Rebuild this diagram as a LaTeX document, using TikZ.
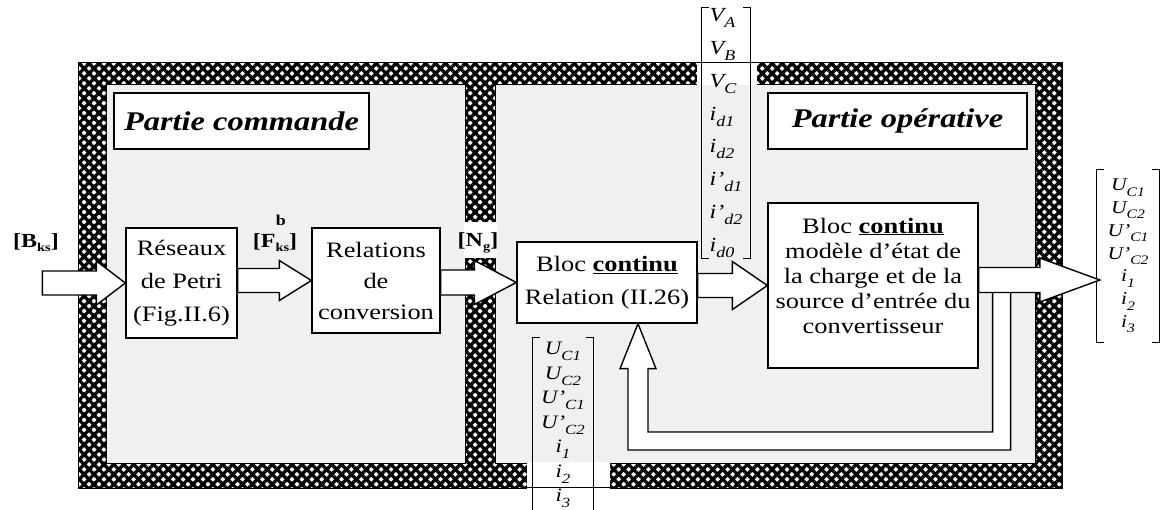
\documentclass[tikz,border=0pt]{standalone}
\usepackage{fontspec}
\setmainfont{Liberation Serif}[FakeStretch=1.2]
\usetikzlibrary{patterns.meta,calc}
\newcommand\fs[2]{\fontsize{#1}{#2}\selectfont}
\newcommand\vs[2]{\raisebox{-0.3em}{\fontsize{#1}{#1}\selectfont #2}}
\newcommand\lsub[1]{\raisebox{-0.2em}{\fontsize{12}{12}\selectfont\bfseries #1}}
\newcommand\harrow[5]{%
  \draw[arr] ($(#1)+(0,-#3)$) -- ($(#2)+(-#5,-#3)$) -- ($(#2)+(-#5,-#4)$) -- (#2)
    -- ($(#2)+(-#5,#4)$) -- ($(#2)+(-#5,#3)$) -- ($(#1)+(0,#3)$) -- cycle;}
\newcommand\brackets[1]{%
  \draw[brk] ([xshift=7pt]#1.north west) -- (#1.north west) -- (#1.south west) -- ([xshift=7pt]#1.south west);
  \draw[brk] ([xshift=-7pt]#1.north east) -- (#1.north east) -- (#1.south east) -- ([xshift=-7pt]#1.south east);}
\begin{document}
\begin{tikzpicture}[x=1pt,y=-1pt,
  box/.style={draw,line width=1.3pt,fill=white,inner sep=0pt,align=center,font=\fs{22}{33}},
  ttl/.style={draw,line width=1.2pt,fill=white,inner sep=0pt,font=\fs{27}{30}\bfseries\itshape},
  arr/.style={draw,line width=1.4pt,fill=white,line join=miter},
  lbl/.style={inner sep=0pt,font=\fs{20}{22}\bfseries},
  vec/.style={inner sep=0pt,align=center},
  brk/.style={line width=0.9pt},
  hatchfill/.style={pattern={Hatch[distance=7pt,angle=45,line width=3.3pt]},pattern color=black,draw=black,line width=1pt},
  innerfill/.style={fill=black!6}]
\fill[white] (0,0) rectangle (1162,509);
\useasboundingbox (0,0) rectangle (1162,509);

% frame
\fill[innerfill] (106,84) rectangle (465,463);
\fill[innerfill] (495,84) rectangle (1035,463);
\path[hatchfill,even odd rule] (78,62) rectangle (1062,488) (106,84) rectangle (465,463) (495,84) rectangle (1035,463);
\fill[white] (697,60) rectangle (757,85);
\draw[line width=1pt] (697,62) -- (757,62);
\fill[white] (527,462) rectangle (610,490);
\draw[line width=1pt] (527,487) -- (610,487);
\fill[white] (463.5,222) rectangle (496.5,258);

% titles
\node[ttl,minimum width=255pt,minimum height=56pt] (tc) at (241.5,121) {Partie commande};
\node[ttl,minimum width=259pt,minimum height=56pt] (to) at (897.5,121) {Partie opérative};

% blocks
\node[box,minimum width=111pt,minimum height=110pt] (petri) at (181.5,283) {Réseaux\\de Petri\\(Fig.II.6)};
\node[box,minimum width=128pt,minimum height=105pt,font=\fs{22}{31}] (relconv) at (376,280.5) {Relations\\de\\conversion};
\node[box,minimum width=180pt,minimum height=81pt] (bloc) at (607,282.5) {Bloc \underline{\textbf{continu}}\\Relation (II.26)};
\node[box,minimum width=210pt,minimum height=165pt] (model) at (873,285.5) {};
\node[inner sep=0pt,align=center,font=\fs{22}{25}] (modeltxt) at ([yshift=10pt]model.center) {Bloc \underline{\textbf{continu}}\\modèle d’état de\\la charge et de la\\source d’entrée du\\convertisseur};

% vectors
\node[vec,align=left,font=\fs{20}{32.8}\itshape,minimum width=48pt,minimum height=250pt] (tv) at (726,133)
  {V\vs{15}{A}\\V\vs{15}{B}\\V\vs{15}{C}\\i\vs{15}{d1}\\i\vs{15}{d2}\\i'\vs{15}{d1}\\i'\vs{15}{d2}\\i\vs{15}{d0}};
\brackets{tv}
\node[vec,font=\fs{19}{24.5}\itshape,minimum width=60pt,minimum height=174pt] (bv) at (563,425)
  {U\vs{14}{C1}\\U\vs{14}{C2}\\U'\vs{14}{C1}\\U'\vs{14}{C2}\\i\vs{14}{1}\\i\vs{14}{2}\\i\vs{14}{3}};
\brackets{bv}
\node[vec,font=\fs{18}{22.8}\itshape,minimum width=62pt,minimum height=173pt] (rv) at (1128,256)
  {U\vs{13}{C1}\\U\vs{13}{C2}\\U'\vs{13}{C1}\\U'\vs{13}{C2}\\i\vs{13}{1}\\i\vs{13}{2}\\i\vs{13}{3}};
\brackets{rv}

% arrows
\coordinate (bin) at ([xshift=-83pt]petri.west);
\harrow{bin}{petri.west}{12}{22}{29}
\coordinate (a1) at (petri.east |- relconv.west);
\harrow{a1}{relconv.west}{12}{20}{32}
\coordinate (a2) at (relconv.east |- bloc.west);
\harrow{a2}{bloc.west}{12.5}{22}{42}
\coordinate (a3) at (bloc.east |- model.west);
\harrow{a3}{model.west}{12}{24}{35}

% feedback
\coordinate (o1) at ([yshift=5.5pt]model.east);
\coordinate (otip) at ([xshift=3pt]o1 -| rv.west);
\coordinate (fbtip) at ([xshift=31pt]bloc.south);
\coordinate (fbA) at ($(o1)+(14,13)$);
\coordinate (fbB) at ($(o1)+(32,13)$);
\draw[arr] (fbA) -- (fbA |- 0,432) -- ($(fbtip |- 0,432)+(10,0)$) -- ($(fbtip)+(10,45)$) -- ($(fbtip)+(18,45)$)
  -- (fbtip) -- ($(fbtip)+(-18,45)$) -- ($(fbtip)+(-10,45)$) -- ($(fbtip |- 0,450)+(-10,0)$)
  -- (fbB |- 0,450) -- (fbB);
\harrow{o1}{otip}{12.5}{22}{60}

% labels
\node[lbl] (Bl) at (36,243) {[B\lsub{ks}]};
\node[lbl] (Fl) at (275,243) {[F\lsub{ks}]};
\node[inner sep=0pt,font=\fs{15}{15}\bfseries] (Fb) at (281,220) {b};
\node[lbl] (Nl) at (478,243) {[N\lsub{g}]};
\end{tikzpicture}
\end{document}
